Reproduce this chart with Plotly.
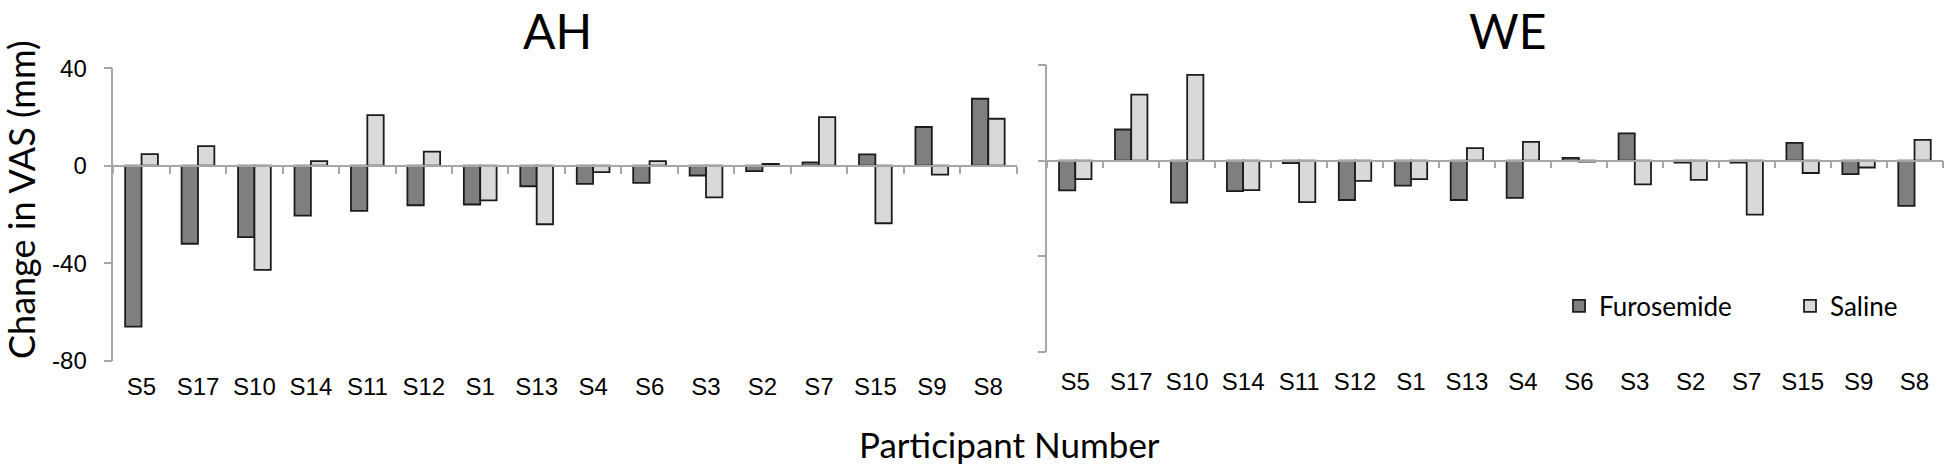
import plotly.graph_objects as go

# ---------------- data ----------------
participants = ["S5", "S17", "S10", "S14", "S11", "S12", "S1", "S13",
                "S4", "S6", "S3", "S2", "S7", "S15", "S9", "S8"]

ah_furosemide = [-66.0, -32.0, -29.3, -20.5, -18.5, -16.2, -15.9, -8.4,
                 -7.4, -7.0, -4.0, -2.2, 1.4, 4.7, 15.9, 27.5]
ah_saline = [4.8, 8.1, -42.7, 1.9, 20.8, 5.8, -14.2, -24.0,
             -2.6, 1.9, -13.0, 0.8, 20.0, -23.6, -3.6, 19.3]

we_furosemide = [-12.5, 13.0, -17.6, -12.8, -1.1, -16.5, -10.5, -16.5,
                 -15.6, 1.1, 11.4, -0.8, -0.8, 7.4, -5.7, -19.0]
we_saline = [-7.8, 27.6, 35.9, -12.4, -17.4, -8.5, -7.8, 5.2,
             7.8, -0.4, -10.0, -8.1, -22.6, -5.2, -2.9, 8.7]

y_ticks = [40, 0, -40, -80]
y_min, y_max = -80, 40

# ---------------- style ----------------
W, H = 1946, 466
DARK = "#7f7f7f"
LIGHT = "#d9d9d9"
OUTLINE = "#1c1c1c"
AXIS = "#a6a6a6"
TITLE_FONT = "Lato"
TICK_FONT = "Liberation Sans"


def fx(p):
    return p / W


def fy(p):
    return 1 - p / H


ah_x_dom = [fx(113.3), fx(1016.5)]
ah_y_dom = [fy(360.7), fy(68.3)]
we_x_dom = [fx(1047.3), fx(1942.5)]
we_y_dom = [fy(351.7), fy(65.0)]


def zero_pos(dom):
    return dom[0] + (0 - y_min) / (y_max - y_min) * (dom[1] - dom[0])


def bar(y, name, color, xa, ya, show, legend):
    return go.Bar(
        x=participants, y=y, name=name, xaxis=xa, yaxis=ya,
        showlegend=show, legendgroup=name, legend=legend,
        marker=dict(color=color, line=dict(color=OUTLINE, width=1.8)),
    )


fig = go.Figure()
fig.add_trace(bar(ah_furosemide, "Furosemide", DARK, "x", "y", True, "legend"))
fig.add_trace(bar(ah_saline, "Saline", LIGHT, "x", "y", True, "legend2"))
fig.add_trace(bar(we_furosemide, "Furosemide", DARK, "x2", "y2", False, "legend"))
fig.add_trace(bar(we_saline, "Saline", LIGHT, "x2", "y2", False, "legend2"))

n = len(participants)


def xaxis(dom, ydom):
    return dict(
        domain=dom, anchor="free", position=zero_pos(ydom), automargin=False,
        type="category", categoryorder="array", categoryarray=participants,
        range=[-0.5, n - 0.5],
        showline=True, linecolor=AXIS, linewidth=1.5,
        ticks="outside", tickson="boundaries", ticklen=7, tickwidth=1.5,
        tickcolor=AXIS, showgrid=False, zeroline=False,
        tickfont=dict(family=TICK_FONT, size=24, color="black"),
        ticklabelstandoff=200,
    )


def yaxis(dom, anchor, labels):
    return dict(
        domain=dom, anchor=anchor, range=[y_min, y_max], automargin=False,
        tickmode="array", tickvals=y_ticks, ticktext=[str(v) for v in y_ticks],
        showticklabels=labels,
        showline=True, linecolor=AXIS, linewidth=1.5,
        ticks="outside", ticklen=8, tickwidth=1.5, tickcolor=AXIS,
        showgrid=False, zeroline=False,
        tickfont=dict(family=TICK_FONT, size=24, color="black"),
        ticklabelstandoff=12,
    )


legend_common = dict(
    orientation="h", xanchor="left", yanchor="middle", y=fy(306),
    font=dict(family=TITLE_FONT, size=26, color="black"),
    itemwidth=30, bgcolor="rgba(0,0,0,0)",
)

fig.update_layout(
    width=W, height=H, autosize=False,
    margin=dict(l=0, r=0, t=0, b=0, autoexpand=False),
    paper_bgcolor="white", plot_bgcolor="white",
    barmode="group", bargap=0.42, bargroupgap=0,
    xaxis=xaxis(ah_x_dom, ah_y_dom),
    yaxis=yaxis(ah_y_dom, "x", True),
    xaxis2=xaxis(we_x_dom, we_y_dom),
    yaxis2=yaxis(we_y_dom, "x2", False),
    legend=dict(x=fx(1559), **legend_common),
    legend2=dict(x=fx(1790), **legend_common),
    annotations=[
        dict(text="AH", x=fx(557), y=1, xref="paper", yref="paper",
             showarrow=False, xanchor="center", yanchor="top",
             font=dict(family=TITLE_FONT, size=48, color="black")),
        dict(text="WE", x=fx(1507), y=1, xref="paper", yref="paper",
             showarrow=False, xanchor="center", yanchor="top",
             font=dict(family=TITLE_FONT, size=48, color="black")),
        dict(text="Change in VAS (mm)", x=fx(21), y=fy(200), xref="paper", yref="paper",
             showarrow=False, xanchor="center", yanchor="middle", textangle=-90,
             font=dict(family=TITLE_FONT, size=36, color="black")),
        dict(text="Participant Number", x=fx(1010), y=fy(444), xref="paper", yref="paper",
             showarrow=False, xanchor="center", yanchor="middle",
             font=dict(family=TITLE_FONT, size=35, color="black")),
    ],
)

fig.write_html("out.html", config={"displayModeBar": False},
               post_script="document.body.style.margin='0';")
